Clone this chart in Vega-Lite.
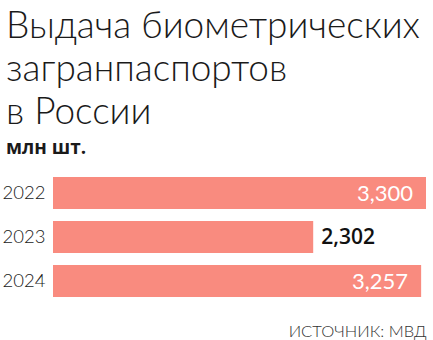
{
  "$schema": "https://vega.github.io/schema/vega-lite/v6.json",
  "width": 373,
  "height": 132,
  "autosize": {"type": "none"},
  "padding": {"left": 53, "top": 171, "right": 7, "bottom": 37},
  "background": "white",
  "config": {
    "view": {"stroke": null},
    "locale": {"number": {"decimal": ",", "thousands": " ", "grouping": [3], "currency": ["", " ₽"]}},
    "font": "Lato"
  },
  "title": {
    "text": ["Выдача биометрических", "загранпаспортов", "в России"],
    "subtitle": "млн шт.",
    "anchor": "start",
    "frame": "group",
    "dx": -47,
    "offset": 12,
    "font": "Lato",
    "fontSize": 37,
    "fontWeight": 300,
    "lineHeight": 43,
    "color": "#1a1a1a",
    "subtitleFont": "Open Sans",
    "subtitleFontSize": 19,
    "subtitleFontWeight": "bold",
    "subtitleColor": "#1a1a1a",
    "subtitlePadding": 7
  },
  "data": {
    "values": [
      {"year": "2022", "value": 3.300},
      {"year": "2023", "value": 2.302},
      {"year": "2024", "value": 3.257}
    ]
  },
  "encoding": {
    "y": {
      "field": "year",
      "type": "nominal",
      "sort": null,
      "scale": {"paddingInner": 0.27, "paddingOuter": 0.135},
      "axis": {
        "title": null,
        "domain": false,
        "ticks": false,
        "labelPadding": 8,
        "labelFontSize": 18.5,
        "labelFont": "Lato",
        "labelFontWeight": 300,
        "labelColor": "#1a1a1a"
      }
    },
    "x": {
      "field": "value",
      "type": "quantitative",
      "scale": {"domain": [0, 3.3], "nice": false, "zero": true},
      "axis": {
        "title": "ИСТОЧНИК: МВД",
        "titleAnchor": "end",
        "titleAlign": "right",
        "titleBaseline": "alphabetic",
        "titleY": 33,
        "titleFont": "Lato",
        "titleFontSize": 16.5,
        "titleFontWeight": 300,
        "titleColor": "#333333",
        "labels": false,
        "ticks": false,
        "domain": false,
        "grid": false
      }
    }
  },
  "layer": [
    {"mark": {"type": "bar", "color": "#f98b7f"}},
    {
      "transform": [{"filter": "datum.value >= 3"}],
      "mark": {"type": "text", "align": "right", "baseline": "middle", "dx": -13, "dy": 1, "font": "Lato", "fontSize": 22, "fontWeight": 400, "color": "white"},
      "encoding": {"text": {"field": "value", "type": "quantitative", "format": ".3f"}}
    },
    {
      "transform": [{"filter": "datum.value < 3"}],
      "mark": {"type": "text", "align": "left", "baseline": "middle", "dx": 8, "dy": 1, "font": "Open Sans", "fontSize": 21, "fontWeight": 600, "color": "#111111"},
      "encoding": {"text": {"field": "value", "type": "quantitative", "format": ".3f"}}
    }
  ]
}
